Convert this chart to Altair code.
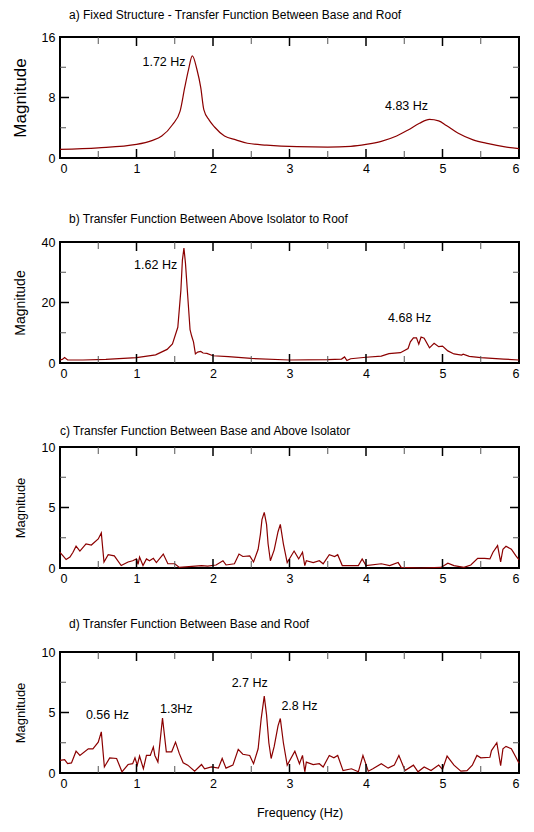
import altair as alt
import pandas as pd

# ---------------- data ----------------
titles = [
    "a) Fixed Structure - Transfer Function Between Base and Roof",
    "b) Transfer Function Between Above Isolator to Roof",
    "c) Transfer Function Between Base and Above Isolator",
    "d) Transfer Function Between Base and Roof",
]

fa = [0, 0.5, 1.0, 1.2, 1.33, 1.47, 1.57, 1.63, 1.68, 1.73, 1.79, 1.84, 1.88, 1.95, 2.02, 2.15,
      2.3, 2.45, 2.7, 3.1, 3.5, 3.8, 4.0, 4.2, 4.4, 4.55, 4.7, 4.83, 4.95, 5.05, 5.2, 5.4, 5.6, 5.8, 6.0]
ma = [1.15, 1.35, 1.8, 2.3, 2.9, 4.4, 6.2, 9.3, 11.7, 13.5, 11.7, 9.3, 6.4, 5.0, 4.1, 2.9,
      2.4, 1.95, 1.7, 1.5, 1.45, 1.55, 1.8, 2.2, 2.9, 3.7, 4.6, 5.1, 4.9, 4.3, 3.3, 2.4, 1.9, 1.5, 1.25]

fb = [0, 0.03, 0.06, 0.1, 0.3, 0.6, 1.0, 1.25, 1.4, 1.47, 1.54, 1.58, 1.6, 1.62, 1.64, 1.67, 1.7,
      1.72, 1.745, 1.77, 1.8, 1.84, 1.87, 1.92, 2.0, 2.2, 2.5, 3.0, 3.5, 3.68, 3.72, 3.75, 3.8, 4.0,
      4.2, 4.3, 4.45, 4.55, 4.58, 4.62, 4.66, 4.69, 4.72, 4.76, 4.83, 4.89, 4.95, 5.0, 5.07, 5.15,
      5.25, 5.27, 5.35, 5.5, 5.8, 6.0]
mb = [1.0, 1.2, 1.8, 1.0, 1.0, 1.2, 1.8, 2.7, 4.5, 6.3, 11.8, 24, 34, 38, 33, 22, 11,
      9, 7, 3.0, 3.6, 3.8, 3.3, 3.2, 2.4, 2.1, 1.5, 1.0, 1.1, 1.3, 2.0, 0.8, 1.4, 1.9,
      2.3, 3.1, 3.4, 4.8, 7.0, 8.3, 8.3, 6.2, 8.6, 8.2, 5.0, 6.5, 5.4, 5.6, 4.0, 3.0,
      2.6, 2.9, 2.2, 1.8, 1.3, 1.0]

fc = [0, 0.04, 0.08, 0.13, 0.17, 0.21, 0.26, 0.34, 0.41, 0.5, 0.54, 0.575, 0.63, 0.71, 0.8, 0.89,
      0.95, 1.0, 1.02, 1.04, 1.085, 1.13, 1.17, 1.22, 1.26, 1.35, 1.41, 1.5, 1.56, 1.85, 1.93, 2.04,
      2.13, 2.17, 2.28, 2.34, 2.39, 2.48, 2.53, 2.59, 2.62, 2.64, 2.67, 2.7, 2.72, 2.75, 2.8, 2.85,
      2.88, 2.92, 2.97, 3.06, 3.12, 3.17, 3.2, 3.22, 3.31, 3.39, 3.44, 3.52, 3.59, 3.63, 3.69, 3.8,
      3.9, 3.95, 4.0, 4.2, 4.31, 4.42, 4.46, 4.72, 4.98, 5.07, 5.15, 5.28, 5.37, 5.46, 5.55, 5.62,
      5.66, 5.72, 5.76, 5.79, 5.83, 5.9, 5.96, 6.0]
mc = [1.3, 1.0, 0.7, 0.9, 1.3, 1.8, 1.4, 2.0, 1.9, 2.4, 2.9, 0.5, 1.1, 1.0, 0.2, 0.5,
      0.6, 0.75, 0.3, 0.9, 0.2, 0.75, 0.6, 0.8, 0.45, 1.15, 0.35, 0.35, 0.05, 0.2, 0.15, 0.25,
      0.6, 0.25, 0.35, 1.15, 0.95, 1.0, 0.5, 1.55, 2.8, 4.0, 4.6, 3.6, 2.0, 0.6, 1.5, 3.0,
      3.6, 2.0, 0.45, 1.4, 0.75, 1.3, 0.2, 0.6, 0.45, 0.6, 0.35, 1.1, 0.95, 1.1, 0.2, 0.2,
      0.2, 0.75, 0.2, 0.35, 0.2, 0.45, 0.05, 0.0, 0.05, 0.4, 0.2, 0.05, 0.25, 0.8, 0.8, 0.75,
      1.3, 1.85, 0.5, 1.55, 1.8, 1.55, 1.0, 0.7]

fd = [0, 0.06, 0.1, 0.15, 0.21, 0.26, 0.37, 0.43, 0.5, 0.54, 0.58, 0.65, 0.74, 0.81, 0.89, 0.95,
      0.98, 1.01, 1.04, 1.09, 1.13, 1.18, 1.22, 1.24, 1.28, 1.34, 1.39, 1.46, 1.51, 1.56, 1.61, 1.67,
      1.76, 1.85, 1.89, 1.98, 2.07, 2.12, 2.17, 2.26, 2.33, 2.39, 2.48, 2.53, 2.59, 2.63, 2.67, 2.7,
      2.73, 2.76, 2.8, 2.85, 2.88, 2.92, 2.97, 3.07, 3.13, 3.17, 3.2, 3.22, 3.31, 3.39, 3.44, 3.52,
      3.58, 3.63, 3.7, 3.81, 3.9, 3.96, 4.03, 4.09, 4.2, 4.29, 4.37, 4.43, 4.51, 4.62, 4.68, 4.76,
      4.85, 4.95, 5.0, 5.06, 5.15, 5.24, 5.32, 5.39, 5.45, 5.5, 5.62, 5.64, 5.71, 5.76, 5.79, 5.83,
      5.9, 5.96, 6.0]
md = [1.05, 1.1, 0.77, 0.83, 1.8, 1.45, 2.0, 2.0, 2.55, 3.4, 0.5, 1.25, 1.2, 0.1, 0.7, 0.77,
      1.25, 0.65, 1.4, 0.35, 1.45, 1.45, 2.15, 1.45, 0.9, 4.55, 1.75, 1.75, 2.55, 1.6, 0.85, 0.65,
      0.15, 0.7, 0.35, 0.5, 0.4, 1.2, 0.4, 0.65, 1.95, 1.55, 1.45, 0.77, 2.0, 4.5, 6.35, 4.8,
      2.5, 1.2, 2.2, 3.9, 4.5, 2.5, 0.65, 1.8, 0.77, 1.45, 0.1, 0.9, 0.7, 0.77, 0.5, 1.45,
      1.25, 1.45, 0.2, 0.35, 0.1, 1.45, 0.15, 0.35, 0.77, 0.4, 0.65, 1.45, 0.2, 0.65, 0.1, 0.5,
      0.2, 0.65, 0.3, 1.4, 0.65, 0.15, 0.2, 0.65, 1.45, 1.25, 1.3, 1.85, 2.5, 0.6, 2.0, 2.2,
      2.0, 1.3, 0.8]

# peak annotations (label, frequency, magnitude of text baseline)
ann_a = (["1.72 Hz", "4.83 Hz"], [1.36, 4.53], [12.1, 6.3])
ann_b = (["1.62 Hz", "4.68 Hz"], [1.25, 4.57], [31.2, 13.5])
ann_c = ([], [], [])
ann_d = (["0.56 Hz", "1.3Hz", "2.7 Hz", "2.8 Hz"], [0.62, 1.52, 2.48, 3.13], [4.5, 5.0, 7.1, 5.2])

y_max = [16, 40, 10, 10]
x_labels = [0, 1, 2, 3, 4, 5, 6]
x_minor = [0.5, 1.5, 2.5, 3.5, 4.5, 5.5]

# ---------------- layout ----------------
W, H = 459, 121
RED = "#8b0000"
FONT = "Liberation Sans"


def panel(freq, mag, ymax, title, title_dx, title_dy, ytitle_size, ann, xtitle=False,
          interp="linear"):
    df = pd.DataFrame({"f": freq, "m": mag})
    xscale = alt.Scale(domain=[0, 6], nice=False, zero=False)
    yscale = alt.Scale(domain=[0, ymax], nice=False)
    yvals = [0, ymax / 2, ymax]
    xaxis = alt.Axis(values=x_labels, ticks=False, domain=False, grid=False, labelPadding=4,
                     labelFontSize=12.5, labelFont=FONT, labelColor="black", format="d",
                     title="Frequency (Hz)" if xtitle else "", titleFont=FONT,
                     titleFontSize=12.5, titleFontWeight="normal", titleColor="black",
                     titleX=239.5, titleY=43, titleBaseline="alphabetic", titleAlign="center")
    yaxis = alt.Axis(values=yvals, ticks=False, domain=False, grid=False, labelPadding=5,
                     labelFontSize=12.5, labelFont=FONT, labelColor="black", format="d",
                     title="Magnitude", titleFont=FONT, titleFontSize=ytitle_size,
                     titleFontWeight="normal", titleColor="black", titleAngle=270,
                     titleX=-40, titleY=H / 2, titleAlign="center", titleBaseline="middle")
    X = lambda: alt.X("f:Q", scale=xscale, axis=xaxis)
    Y = lambda: alt.Y("m:Q", scale=yscale, axis=yaxis)
    line = alt.Chart(df).mark_line(color=RED, strokeWidth=1.2, interpolate=interp).encode(
        x=X(), y=Y())
    layers = [line]
    xmaj = pd.DataFrame({"f": x_labels[1:-1]})
    xmin = pd.DataFrame({"f": x_minor})
    for d, ln, col, sw in [(xmaj, 9, "black", 1.5), (xmin, 7, "#555555", 1)]:
        layers.append(alt.Chart(d).mark_rule(color=col, strokeWidth=sw).encode(
            x=X(), y=alt.value(H), y2=alt.value(H - ln)))
        layers.append(alt.Chart(d).mark_rule(color=col, strokeWidth=sw).encode(
            x=X(), y=alt.value(0), y2=alt.value(ln)))
    ymaj = pd.DataFrame({"m": [ymax / 2]})
    ymin = pd.DataFrame({"m": [ymax / 4, 3 * ymax / 4]})
    for d, ln, col, sw in [(ymaj, 9, "black", 1.5), (ymin, 6, "#555555", 1)]:
        layers.append(alt.Chart(d).mark_rule(color=col, strokeWidth=sw).encode(
            y=Y(), x=alt.value(0), x2=alt.value(ln)))
        layers.append(alt.Chart(d).mark_rule(color=col, strokeWidth=sw).encode(
            y=Y(), x=alt.value(W), x2=alt.value(W - ln)))
    if ann[0]:
        adf = pd.DataFrame({"t": ann[0], "f": ann[1], "m": ann[2]})
        layers.append(alt.Chart(adf).mark_text(align="center", baseline="alphabetic",
                                               fontSize=12.5, font=FONT, color="black").encode(
            x=X(), y=Y(), text="t:N"))
    return alt.layer(*layers).properties(
        width=W, height=H,
        title=alt.TitleParams(text=title, anchor="start", frame="group", dx=title_dx,
                              dy=title_dy, offset=0, fontSize=12, font=FONT,
                              fontWeight="normal", color="black", baseline="alphabetic"),
    )


pa = panel(fa, ma, y_max[0], titles[0], 9, -0.5, 17, ann_a, interp="monotone")
pb = panel(fb, mb, y_max[1], titles[1], 9, -1.5, 14, ann_b)
pc = panel(fc, mc, y_max[2], titles[2], 0, 5.5, 13, ann_c)
pd_ = panel(fd, md, y_max[3], titles[3], 9, -6.5, 13, ann_d, xtitle=True)

chart = alt.vconcat(pa, pb, pc, pd_, spacing=84, bounds="flush").properties(
    padding={"left": 10, "top": 7, "right": 5, "bottom": 5},
    background="white",
).configure_view(stroke="black", strokeWidth=2)

chart.save("out.html", embed_options={"renderer": "svg", "actions": False})
